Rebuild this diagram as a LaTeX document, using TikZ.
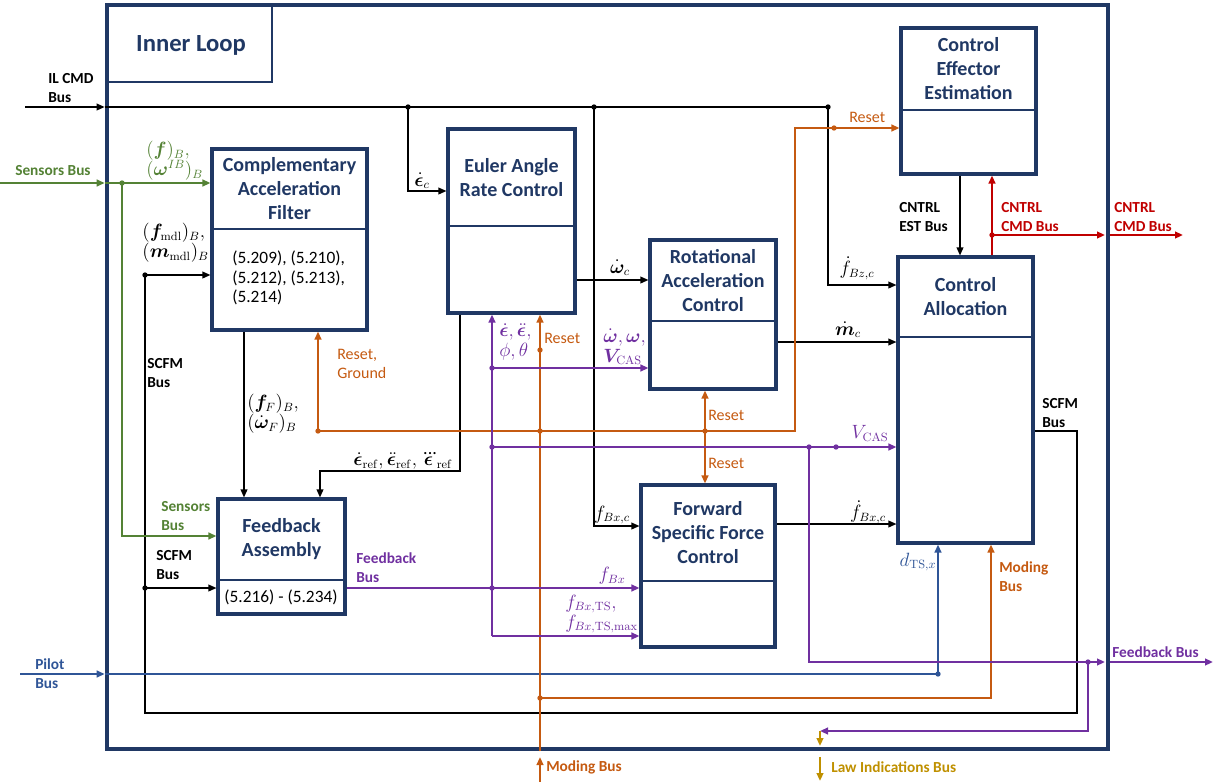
\documentclass[tikz,border=0pt]{standalone}
\usepackage[no-math]{fontspec}
\setmainfont{Carlito}
\usepackage{amsmath,bm}
\usepackage{tikz}
\usetikzlibrary{arrows.meta,positioning,calc,fit}
\usepackage{xcolor}
\definecolor{ilnavy}{HTML}{203864}
\definecolor{ilgreen}{HTML}{548235}
\definecolor{ilorange}{HTML}{C55A11}
\definecolor{ilpurple}{HTML}{7030A0}
\definecolor{ilblue}{HTML}{2F5597}
\definecolor{ilred}{HTML}{C00000}
\definecolor{ilgold}{HTML}{BF9000}

\begin{document}
\begin{tikzpicture}[x=.75pt,y=-.75pt,font=\fontsize{11.5}{14.5}\selectfont,
    blk/.style={draw=ilnavy,line width=2.3pt,fill=white,inner sep=0pt},
    ttl/.style={text=ilnavy,font=\fontsize{15}{18}\selectfont\bfseries,align=center},
    lbl/.style={font=\fontsize{11.5}{14.5}\selectfont\bfseries,align=left,inner sep=0pt},
    rst/.style={font=\fontsize{12}{14.5}\selectfont,text=ilorange,align=left,inner sep=0pt},
    mth/.style={font=\fontsize{13.5}{15}\selectfont,align=left,inner sep=0pt},
    eqn/.style={font=\fontsize{13}{14.5}\selectfont,align=left,inner sep=0pt},
    bus/.style={line width=1.1pt},
    cbus/.style={line width=1.5pt},
    sig/.style={bus,-{Triangle[length=6pt,width=5pt]}},
    csig/.style={cbus,-{Triangle[length=6pt,width=5pt]}}]
    \useasboundingbox (0,0) rectangle (1215,782);

    \node[draw=ilnavy,line width=3.5pt,inner sep=0pt,fit={(107,5) (1108,749)}] (loop) {};
    \node[draw=ilnavy,line width=.9pt,inner sep=0pt,fit={(107,5) (272,82)}] (ilbox) {};
    \node[ttl,font=\fontsize{18.5}{22}\selectfont\bfseries] at (191,45) {Inner Loop};

    \foreach \n/\x/\y/\X/\Y/\s/\lab in {
        caf/212/149/367/330/229/{Complementary\\Acceleration\\Filter},
        ear/448/129/575/313/226/{Euler Angle\\Rate Control},
        rac/650/240/776/389/321/{Rotational\\Acceleration\\Control},
        cee/901/28/1036/174/110/{Control\\Effector\\Estimation},
        ca/898/257/1033/543/337/{Control\\Allocation},
        fsf/641/485/775/647/581/{Forward\\Specific Force\\Control},
        fa/218/499/345/614/580/{Feedback\\Assembly}}{
      \node[blk,fit={(\x,\y) (\X,\Y)}] (\n) {};
      \draw[ilnavy,line width=.8pt] (\x,\s) -- (\X,\s);
      \node[ttl] at ({(\x+\X)/2},{(\y+\s)/2}) {\lab};
    }
    \node[eqn,anchor=west] at (232,278) {(5.209), (5.210),\\(5.212), (5.213),\\(5.214)};
    \node[eqn] at (281,597) {(5.216) - (5.234)};

    \coordinate (ilin) at (25,107);
    \coordinate (il1) at (408,107);
    \coordinate (il2) at (594,107);
    \coordinate (il3) at (828,107);
    \coordinate (ec) at (408,191);
    \coordinate (fbxc) at (594,526);
    \coordinate (fbzc) at (828,285);
    \coordinate (wc) at (610,280);
    \coordinate (mc) at (840,342);
    \coordinate (fbxd) at (840,524);
    \coordinate (est) at (960,215);
    \coordinate (ff) at (244,410);
    \coordinate (er1) at (460,471);
    \coordinate (er2) at (320,471);
    \coordinate (sc1) at (1077,431);
    \coordinate (sc2) at (1077,713);
    \coordinate (sc3) at (145,713);
    \coordinate (sc4) at (145,275);
    \coordinate (sc5) at (145,588);

    \draw[sig] (ilin) -- (loop.west |- ilin);
    \draw[sig] (loop.west |- ilin) -- (il3) -- (fbzc) -- (ca.west |- fbzc);
    \draw[sig] (il1) -- (ec) -- (ear.west |- ec);
    \draw[sig] (il2) -- (fbxc) -- (fsf.west |- fbxc);
    \draw[sig] (ear.east |- wc) -- (rac.west |- wc);
    \draw[sig] (rac.east |- mc) -- (ca.west |- mc);
    \draw[sig] (fsf.east |- fbxd) -- (ca.west |- fbxd);
    \draw[sig] (cee.south -| est) -- (ca.north -| est);
    \draw[sig] (caf.south -| ff) -- (fa.north -| ff);
    \draw[sig] (ear.south -| er1) -- (er1) -- (er2) -- (fa.north -| er2);
    \draw[sig] (ca.east |- sc1) -- (sc1) -- (sc2) -- (sc3) -- (sc4) -- (caf.west |- sc4);
    \draw[sig] (sc5) -- (fa.west |- sc5);

    \coordinate (snin) at (0,183);
    \coordinate (sn1) at (122,183);
    \coordinate (sn2) at (122,536);
    \draw[csig,ilgreen] (snin) -- (loop.west |- snin);
    \draw[csig,ilgreen] (loop.west |- snin) -- (caf.west |- snin);
    \draw[csig,ilgreen] (sn1) -- (sn2) -- (fa.west |- sn2);

    \coordinate (plin) at (20,674);
    \coordinate (pl1) at (938,674);
    \draw[csig,ilblue] (plin) -- (loop.west |- plin);
    \draw[csig,ilblue] (loop.west |- plin) -- (pl1) -- (ca.south -| pl1);

    \coordinate (mdin) at (540,782);
    \coordinate (mdtip) at (540,757);
    \coordinate (md1) at (540,698);
    \coordinate (md2) at (991,698);
    \coordinate (md3) at (540,431);
    \coordinate (md4) at (540,350);
    \coordinate (rs1) at (318,431);
    \coordinate (rs2) at (705,431);
    \coordinate (rs3) at (795,431);
    \coordinate (rs4) at (795,128);
    \coordinate (rs5) at (834,128);
    \draw[csig,ilorange] (mdin) -- (mdtip);
    \draw[csig,ilorange] (loop.south -| mdin) -- (ear.south -| mdin);
    \draw[csig,ilorange] (md1) -- (md2) -- (ca.south -| md2);
    \draw[csig,ilorange] (rs1) -- (rs3) -- (rs4) -- (cee.west |- rs4);
    \draw[csig,ilorange] (rs1) -- (caf.south -| rs1);
    \draw[csig,ilorange] (rs2) -- (rac.south -| rs2);
    \draw[csig,ilorange] (rs2) -- (fsf.north -| rs2);

    \coordinate (fb1) at (492,588);
    \coordinate (fb2) at (492,636);
    \coordinate (fb3) at (492,447);
    \coordinate (fb4) at (492,368);
    \coordinate (fb5) at (809,447);
    \coordinate (fb6) at (836,447);
    \coordinate (fb7) at (809,662);
    \coordinate (fbtip) at (1105,662);
    \coordinate (fb8) at (1088,662);
    \coordinate (fb9) at (1088,731);
    \coordinate (fb10) at (820,731);
    \coordinate (fbout) at (1213,662);
    \draw[csig,ilpurple] (fa.east |- fb1) -- (fsf.west |- fb1);
    \draw[csig,ilpurple] (fb2) -- (ear.south -| fb2);
    \draw[csig,ilpurple] (fb2) -- (fsf.west |- fb2);
    \draw[csig,ilpurple] (fb4) -- (rac.west |- fb4);
    \draw[csig,ilpurple] (fb3) -- (ca.west |- fb3);
    \draw[csig,ilpurple] (fb5) -- (fb7) -- (fbtip);
    \draw[csig,ilpurple] (fb8) -- (fb9) -- (fb10);
    \draw[csig,ilpurple] (loop.east |- fb7) -- (fbout);

    \coordinate (lwtip) at (820,746);
    \coordinate (lw1) at (820,757);
    \coordinate (lwout) at (820,781);
    \draw[csig,ilgold] (fb10) -- (lwtip);
    \draw[csig,ilgold] (lw1) -- (lwout);

    \coordinate (cm1) at (992,235);
    \coordinate (cmtip) at (1105,235);
    \coordinate (cmout) at (1183,235);
    \draw[csig,ilred] (ca.north -| cm1) -- (cee.south -| cm1);
    \draw[csig,ilred] (cm1) -- (cmtip);
    \draw[csig,ilred] (loop.east |- cm1) -- (cmout);

    \foreach \p/\c in {il1/black,il2/black,il3/black,sc4/black,sc5/black,sn1/ilgreen,
        pl1/ilblue,md1/ilorange,md3/ilorange,md4/ilorange,rs1/ilorange,rs2/ilorange,
        rs5/ilorange,fb1/ilpurple,fb3/ilpurple,fb4/ilpurple,fb5/ilpurple,fb6/ilpurple,
        fb8/ilpurple,cm1/ilred}
      \fill[\c] (\p) circle (2pt);

    \node[lbl,anchor=west] at (48,88) {IL CMD\\Bus};
    \node[lbl,anchor=west,text=ilgreen] at (15,171) {Sensors Bus};
    \node[lbl,anchor=west,text=ilblue] at (35,674) {Pilot\\Bus};
    \node[lbl,anchor=west,text=ilorange] at (546,767) {Moding Bus};
    \node[lbl,anchor=west,text=ilgold] at (831,767) {Law Indications Bus};
    \node[lbl,anchor=west,text=ilpurple] at (1112,652) {Feedback Bus};
    \node[lbl,anchor=west,text=ilred] at (1114,217) {CNTRL\\CMD Bus};
    \node[lbl,anchor=west,text=ilred] at (1001,217) {CNTRL\\CMD Bus};
    \node[lbl,anchor=west] at (899,217) {CNTRL\\EST Bus};
    \node[lbl,anchor=west] at (147,373) {SCFM\\Bus};
    \node[lbl,anchor=west] at (156,565) {SCFM\\Bus};
    \node[lbl,anchor=west] at (1042,413) {SCFM\\Bus};
    \node[lbl,anchor=west,text=ilgreen] at (161,516) {Sensors\\Bus};
    \node[lbl,anchor=west,text=ilpurple] at (356,568) {Feedback\\Bus};
    \node[lbl,anchor=west,text=ilorange] at (999,577) {Moding\\Bus};

    \node[rst,anchor=west] at (337,364) {Reset,\\Ground};
    \node[rst,anchor=west] at (544,338) {Reset};
    \node[rst,anchor=west] at (708,415) {Reset};
    \node[rst,anchor=west] at (708,463) {Reset};
    \node[rst,anchor=west] at (849,117) {Reset};

    \node[mth,anchor=west,text=ilgreen] at (146,161) {$(\bm f)_B,$\\$(\bm\omega^{IB})_B$};
    \node[mth,anchor=east] at (209,243) {$(\bm f_{\mathrm{mdl}})_B,$\\$(\bm m_{\mathrm{mdl}})_B$};
    \node[mth] at (422,181) {$\dot{\bm\epsilon}_c$};
    \node[mth,anchor=west] at (247,414) {$(\bm f_F)_B,$\\$(\dot{\bm\omega}_F)_B$};
    \node[mth] at (403,461) {$\dot{\bm\epsilon}_{\mathrm{ref}},\ddot{\bm\epsilon}_{\mathrm{ref}},\dddot{\bm\epsilon}_{\mathrm{ref}}$};
    \node[mth,anchor=west,text=ilpurple] at (499,342) {$\dot{\bm\epsilon},\ddot{\bm\epsilon},$\\$\phi,\theta$};
    \node[mth,anchor=west,text=ilpurple] at (603,347) {$\dot{\bm\omega},\bm\omega,$\\$\bm V_{\mathrm{CAS}}$};
    \node[mth] at (620,268) {$\dot{\bm\omega}_c$};
    \node[mth] at (612,515) {$f_{Bx,c}$};
    \node[mth] at (857,268) {$\dot f_{Bz,c}$};
    \node[mth] at (848,330) {$\dot{\bm m}_c$};
    \node[mth,text=ilpurple] at (870,433) {$V_{\mathrm{CAS}}$};
    \node[mth] at (868,512) {$\dot f_{Bx,c}$};
    \node[mth,text=ilpurple] at (612,576) {$f_{Bx}$};
    \node[mth,anchor=east,text=ilpurple] at (638,614) {$f_{Bx,\mathrm{TS}},$\\$f_{Bx,\mathrm{TS},\max}$};
    \node[mth,text=ilblue] at (918,562) {$d_{\mathrm{TS},x}$};
  \end{tikzpicture}
\end{document}
